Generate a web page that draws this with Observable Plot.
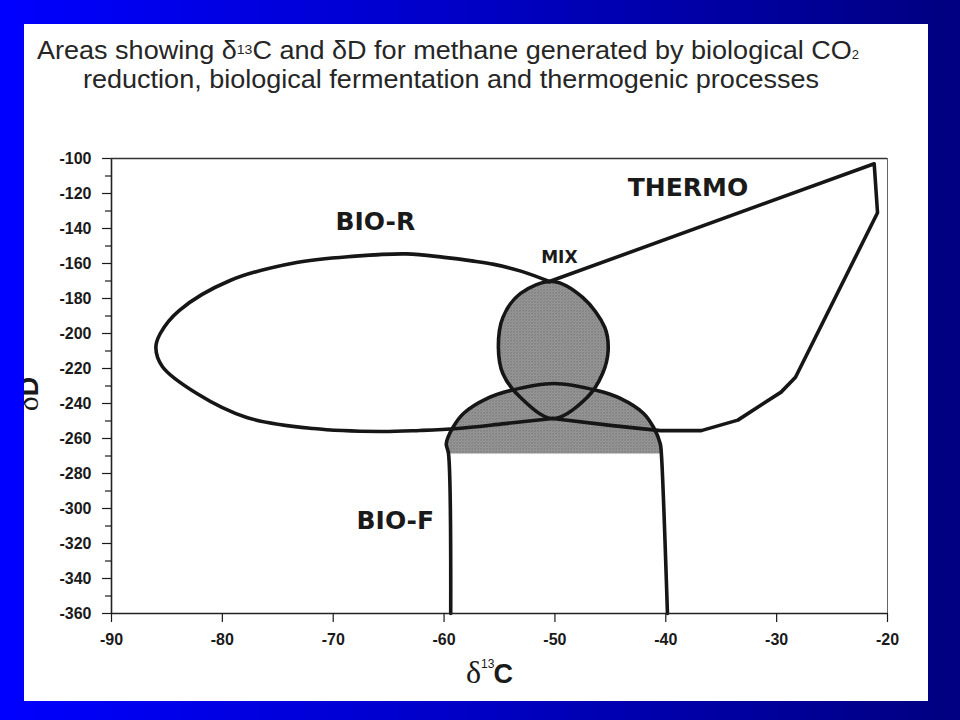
<!DOCTYPE html>
<html>
<head>
<meta charset="utf-8">
<script src="https://cdn.jsdelivr.net/npm/d3@7"></script>
<script src="https://cdn.jsdelivr.net/npm/@observablehq/plot@0.6"></script>
<style>
html, body { margin: 0; padding: 0; }
body {
  width: 960px; height: 720px; overflow: hidden; position: relative;
  background: linear-gradient(to right, #0000ff 0%, #0000c4 50%, #000080 100%);
}
#panel { position: absolute; left: 24px; top: 24px; width: 904px; height: 677px; background: #fff; }
#chart { position: absolute; left: 24px; top: 130px; }
#overlay { position: absolute; left: 0; top: 0; z-index: 2; pointer-events: none; }
</style>
</head>
<body>
<div id="panel"></div>
<div id="chart"></div>
<svg id="overlay" width="960" height="720" xmlns="http://www.w3.org/2000/svg">
  <defs><clipPath id="panelClip"><rect x="24" y="24" width="904" height="677"/></clipPath></defs>
  <g font-family="'Liberation Sans', Arial, Helvetica, sans-serif" fill="#262626">
    <text x="37" y="59" font-size="25" textLength="822" lengthAdjust="spacingAndGlyphs">Areas showing δ<tspan font-size="13" dy="-5">13</tspan><tspan dy="5">C and δD for methane generated by biological CO</tspan><tspan font-size="12">2</tspan></text>
    <text x="83" y="88" font-size="25" textLength="736" lengthAdjust="spacingAndGlyphs">reduction, biological fermentation and thermogenic processes</text>
  </g>
  <g fill="#1a1a1a">
    <text x="466" y="683"><tspan font-family="'Liberation Serif', 'DejaVu Serif', serif" font-size="32">δ</tspan><tspan font-family="'Liberation Sans', Arial, sans-serif" font-size="12" dy="-15">13</tspan><tspan font-family="'Liberation Sans', Arial, sans-serif" font-weight="bold" font-size="27" dy="15" dx="-1">C</tspan></text>
    <g clip-path="url(#panelClip)">
      <text transform="translate(38,394) rotate(-90)" text-anchor="middle"><tspan font-family="'Liberation Serif', 'DejaVu Serif', serif" font-size="32">δ</tspan><tspan font-family="'Liberation Sans', Arial, sans-serif" font-weight="bold" font-size="27">D</tspan></text>
    </g>
  </g>
</svg>
<script>
// ---- axes ----
const xDomain = [-90, -20];
const yDomain = [-360, -100];
const xTicks = [-90, -80, -70, -60, -50, -40, -30, -20];
const yTicks = [-100, -120, -140, -160, -180, -200, -220, -240, -260, -280, -300, -320, -340, -360];
const yMinorTicks = [-110, -130, -150, -170, -190, -210, -230, -250, -270, -290, -310, -330, -350];

// ---- BIO-R outline (from MIX apex, round the left, to bottom of MIX circle) ----
const bioRX = [-50.5, -53.0, -55.5, -57.5, -60.0, -63.4, -68.0, -73.3, -79.3, -83.9, -85.6, -86.0, -85.4, -82.3, -77.8, -71.8, -65.8, -62.2, -58.8, -54.5, -50.2];
const bioRY = [-170.3, -164.5, -160.5, -158.5, -156.5, -154.5, -155.8, -159.4, -169.7, -186.9, -200, -208, -219, -234.3, -248, -254.3, -256, -255.4, -254.3, -251.5, -248.6];

// ---- THERMO outline ----
const thermoX = [-50.5, -21.2, -20.9, -28.3, -29.6, -33.5, -36.8, -40.5, -45.0, -50.2];
const thermoY = [-170.3, -103, -131, -225, -233.5, -249.5, -255.5, -255.5, -252.5, -248.6];

// ---- MIX circle ----
const mixX = [-50.2, -47.5, -45.5, -45.2, -45.7, -47.1, -50.2, -53.1, -54.7, -55.1, -54.7, -53.1];
const mixY = [-170.3, -179.4, -196.6, -209.7, -222.9, -236.6, -248.6, -236.6, -222.9, -208, -190.9, -177.1];

// ---- BIO-F outline ----
const bioFX = [-59.4, -59.6, -59.8, -59.2, -58.25, -56.1, -54.0, -50.1, -46.2, -44.1, -42.0, -41.1, -40.5, -40.4, -39.85];
const bioFY = [-360, -268.6, -262.9, -253.7, -245.7, -237.1, -232.6, -228.6, -232.6, -237.1, -245.7, -253.7, -262.9, -268.6, -360];

// ---- BIO-F shaded dome ----
const domeX = [-59.7, -59.8, -59.2, -58.25, -56.1, -54.0, -50.1, -46.2, -44.1, -42.0, -41.1, -40.5, -40.4];
const domeY = [-268.6, -262.9, -253.7, -245.7, -237.1, -232.6, -228.6, -232.6, -237.1, -245.7, -253.7, -262.9, -268.6];

// ---- labels ----
const regionNames = ["BIO-R", "THERMO", "BIO-F"];
const regionX = [-66.2, -38.0, -64.4];
const regionY = [-136, -116.9, -306.9];
const mixLabel = ["MIX"];
const mixLabelX = [-49.6];
const mixLabelY = [-156.6];

const pts = (xs, ys) => xs.map((x, i) => ({x, y: ys[i]}));
const bioR = pts(bioRX, bioRY);
const thermo = pts(thermoX, thermoY);
const mix = pts(mixX, mixY);
const bioF = pts(bioFX, bioFY);
const dome = pts(domeX, domeY);
const regions = regionNames.map((name, i) => ({name, x: regionX[i], y: regionY[i]}));
const mixText = mixLabel.map((name, i) => ({name, x: mixLabelX[i], y: mixLabelY[i]}));

const ink = "#161616";
const lw = 3.6;
const fmt = d => `${d}`;

const chart = Plot.plot({
  width: 904,
  height: 571,
  marginLeft: 87,
  marginRight: 41,
  marginTop: 28,
  marginBottom: 88,
  x: {domain: xDomain, axis: null, label: null},
  y: {domain: yDomain, axis: null, label: null},
  style: {fontFamily: "'Liberation Sans', Arial, Helvetica, sans-serif", background: "transparent", color: "#1a1a1a", fontWeight: "bold"},
  marks: [
    Plot.line(dome, {x: "x", y: "y", curve: "catmull-rom", fill: "url(#stipple)", stroke: "none"}),
    Plot.line(mix, {x: "x", y: "y", curve: "catmull-rom-closed", fill: "url(#stipple)", stroke: ink, strokeWidth: lw}),
    Plot.line(bioF, {x: "x", y: "y", curve: "catmull-rom", stroke: ink, strokeWidth: lw}),
    Plot.line(bioR, {x: "x", y: "y", curve: "catmull-rom", stroke: ink, strokeWidth: lw}),
    Plot.line(thermo, {x: "x", y: "y", curve: "linear", stroke: ink, strokeWidth: lw, strokeLinejoin: "round"}),
    Plot.ruleX([xDomain[0]], {stroke: "#222", strokeWidth: 1.6}),
    Plot.ruleY([yDomain[0]], {stroke: "#222", strokeWidth: 1.6}),
    Plot.ruleY([yDomain[1]], {stroke: "#333", strokeWidth: 1.4}),
    Plot.ruleX([xDomain[1]], {stroke: "#666", strokeWidth: 1}),
    Plot.axisX(xTicks, {anchor: "bottom", tickSize: 9, tickPadding: 11, fontSize: 16, fontWeight: "bold", tickFormat: fmt, label: null, strokeWidth: 1.2}),
    Plot.axisY(yTicks, {anchor: "left", tickSize: 9, tickPadding: 11, fontSize: 16, fontWeight: "bold", tickFormat: fmt, label: null, strokeWidth: 1.2}),
    Plot.axisY(yMinorTicks, {anchor: "left", tickSize: 6, tickFormat: () => "", label: null, strokeWidth: 1.2}),
    Plot.text(regions, {x: "x", y: "y", text: "name", fontSize: 25, fontWeight: "bold", fontFamily: "'DejaVu Sans', Verdana, sans-serif", fill: "#1a1a1a"}),
    Plot.text(mixText, {x: "x", y: "y", text: "name", fontSize: 17, fontWeight: "bold", fontFamily: "'DejaVu Sans', Verdana, sans-serif", fill: "#1a1a1a"})
  ]
});

d3.select(chart).insert("defs", ":first-child").html(
  '<pattern id="stipple" width="3" height="3" patternUnits="userSpaceOnUse">' +
  '<rect width="3" height="3" fill="#a2a2a2"/>' +
  '<rect x="0" y="0" width="1" height="1" fill="#4c4c4c"/>' +
  '<rect x="1" y="2" width="1" height="1" fill="#6a6a6a"/>' +
  '<rect x="2" y="1" width="1" height="1" fill="#7a7a7a"/>' +
  '</pattern>'
);

document.getElementById("chart").appendChild(chart);
</script>
</body>
</html>
